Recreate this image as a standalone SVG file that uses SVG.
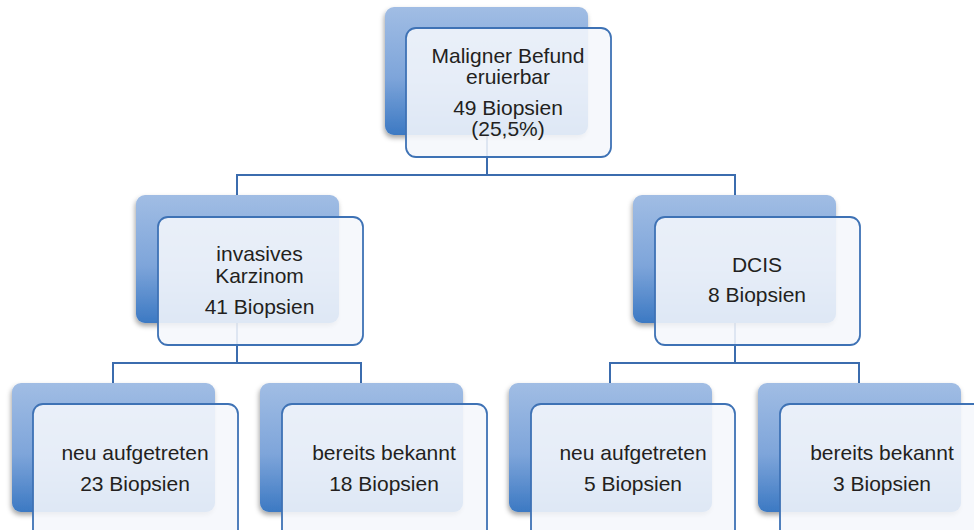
<svg xmlns="http://www.w3.org/2000/svg" width="974" height="530" viewBox="0 0 974 530">
<defs>
<linearGradient id="bg" x1="0" y1="0" x2="0" y2="1">
<stop offset="0" stop-color="#a1bde4"/>
<stop offset="0.55" stop-color="#7ea5da"/>
<stop offset="1" stop-color="#3c79c3"/>
</linearGradient>
<filter id="sh" x="-10%" y="-10%" width="125%" height="130%">
<feDropShadow dx="-1" dy="3" stdDeviation="2.5" flood-color="#000" flood-opacity="0.35"/>
</filter>
</defs>
<style>
.back{fill:url(#bg);filter:url(#sh)}
.front{fill:#f5f7fc;fill-opacity:0.88;stroke:#3e72b5;stroke-width:1.8}
.conn{fill:none;stroke:#3b6cae;stroke-width:2}
text{font-family:"Liberation Sans",Arial,sans-serif;font-size:21px;fill:#231f20;text-anchor:middle}
</style>
<rect width="974" height="530" fill="#ffffff"/>
<g id="connectors">
<path class="conn" d="M487,135 V175 M237,195 V175 H735 V195"/>
<path class="conn" d="M237,323 V363 M113,383 V363 H361 V383"/>
<path class="conn" d="M735,323 V363 M610,383 V363 H859 V383"/>
</g>
<g id="n-root">
<rect class="back" x="385" y="7" width="203" height="128" rx="9"/>
<rect class="front" x="406" y="28" width="205" height="129" rx="10"/>
<text x="508" y="63">Maligner Befund</text>
<text x="508" y="84">eruierbar</text>
<text x="508" y="115">49 Biopsien</text>
<text x="508" y="136">(25,5%)</text>
</g>
<g id="n-invasiv">
<rect class="back" x="136" y="195" width="203" height="128" rx="9"/>
<rect class="front" x="158" y="217" width="205" height="128" rx="10"/>
<text x="259.5" y="261">invasives</text>
<text x="259.5" y="283">Karzinom</text>
<text x="259.5" y="314">41 Biopsien</text>
</g>
<g id="n-dcis">
<rect class="back" x="633" y="195" width="203" height="128" rx="9"/>
<rect class="front" x="655" y="217" width="205" height="128" rx="10"/>
<text x="757" y="272">DCIS</text>
<text x="757" y="302">8 Biopsien</text>
</g>
<g id="n-inv-neu">
<rect class="back" x="12" y="383" width="203" height="129" rx="9"/>
<rect class="front" x="33" y="404" width="205" height="140" rx="10"/>
<text x="135" y="459.5">neu aufgetreten</text>
<text x="135" y="491">23 Biopsien</text>
</g>
<g id="n-inv-bek">
<rect class="back" x="260" y="383" width="203" height="129" rx="9"/>
<rect class="front" x="282" y="404" width="205" height="140" rx="10"/>
<text x="384" y="459.5">bereits bekannt</text>
<text x="384" y="491">18 Biopsien</text>
</g>
<g id="n-dcis-neu">
<rect class="back" x="509" y="383" width="203" height="129" rx="9"/>
<rect class="front" x="531" y="404" width="204" height="140" rx="10"/>
<text x="633" y="459.5">neu aufgetreten</text>
<text x="633" y="491">5 Biopsien</text>
</g>
<g id="n-dcis-bek">
<rect class="back" x="758" y="383" width="203" height="129" rx="9"/>
<rect class="front" x="780" y="404" width="205" height="140" rx="10"/>
<text x="882" y="459.5">bereits bekannt</text>
<text x="882" y="491">3 Biopsien</text>
</g>
</svg>
